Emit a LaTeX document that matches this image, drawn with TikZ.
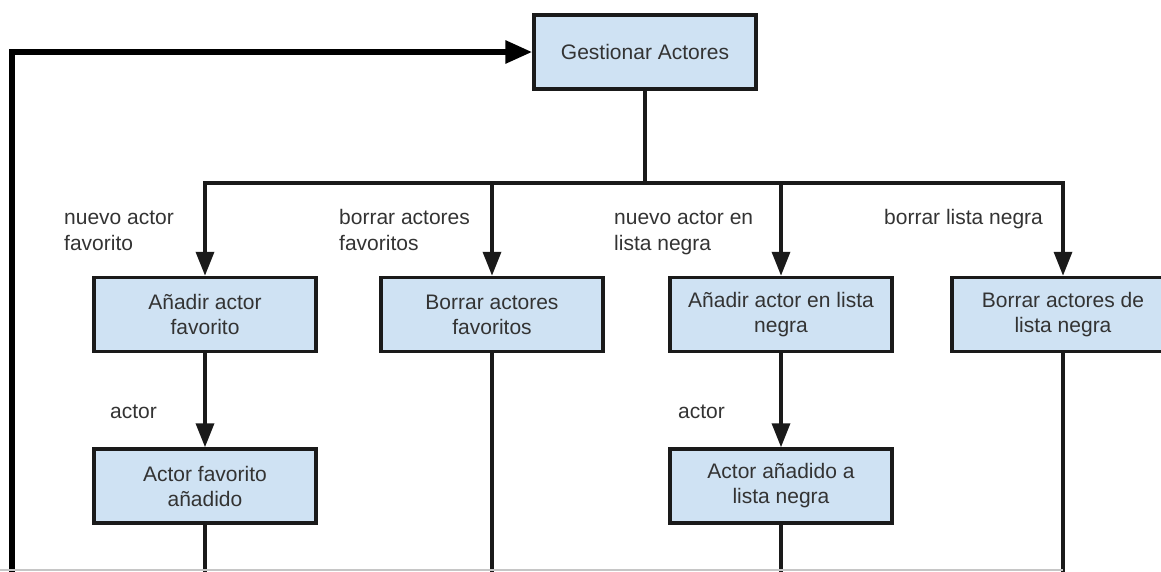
\documentclass[tikz,border=0pt]{standalone}
\usepackage{fontspec}
\setmainfont{Liberation Sans}
\usetikzlibrary{arrows.meta}
\definecolor{boxfill}{HTML}{CFE2F3}
\definecolor{ink}{HTML}{1A1A1A}
\definecolor{txt}{HTML}{333333}
\tikzset{
  procbox/.style={draw=ink, fill=boxfill, line width=3.5pt, minimum width=222pt, minimum height=74pt,
    align=center, text=txt, inner sep=0pt, font=\fontsize{21}{25}\selectfont},
  lbl/.style={align=left, text=txt, inner sep=0pt, font=\fontsize{21}{26}\selectfont, anchor=base west},
  conn/.style={draw=ink, line width=3.5pt},
  arr/.style={conn, -{Triangle[length=24pt,width=18pt]}},
  feedback/.style={draw=black, line width=6pt, -{Triangle[length=27pt,width=22pt]}},
}
\begin{document}
\begin{tikzpicture}[x=1pt,y=-1pt]
\useasboundingbox (0,0) rectangle (1161,571);
\clip (0,0) rectangle (1161,571);
% boxes
\node[procbox] (g) at (645,52) {Gestionar Actores};
\node[procbox] (b1) at (205,314.5) {Añadir actor\\favorito};
\node[procbox] (b2) at (492,314.5) {Borrar actores\\favoritos};
\node[procbox] (b3) at (781,314.5) {Añadir actor en lista\\negra};
\node[procbox] (b4) at (1063,314.5) {Borrar actores de\\lista negra};
\node[procbox] (b5) at (205,486) {Actor favorito\\añadido};
\node[procbox] (b6) at (781,486) {Actor añadido a\\lista negra};
% coordinates
\coordinate (bus) at (645,183);
\coordinate (bottom) at (0,580);
\coordinate (fb) at (12,580);
% labels (base anchor = last line)
\node[lbl] (l1) at (64,250) {nuevo actor\\favorito};
\node[lbl] (l2) at (339,250) {borrar actores\\favoritos};
\node[lbl] (l3) at (614,250) {nuevo actor en\\lista negra};
\node[lbl] (l4) at (884,224) {borrar lista negra};
\node[lbl] (l5) at (110,418) {actor};
\node[lbl] (l6) at (678,418) {actor};
% connectors
\draw[conn] (g.south) -- (bus);
\draw[arr] (bus) -| (b1.north);
\draw[arr] (bus) -| (b2.north);
\draw[arr] (bus) -| (b3.north);
\draw[arr] (bus) -| (b4.north);
\draw[arr] (b1.south) -- (b5.north);
\draw[arr] (b3.south) -- (b6.north);
\draw[conn] (b5.south) -- (b5.south |- bottom);
\draw[conn] (b2.south) -- (b2.south |- bottom);
\draw[conn] (b6.south) -- (b6.south |- bottom);
\draw[conn] (b4.south) -- (b4.south |- bottom);
\draw[feedback] (fb) |- (g.west);
% bottom edge line
\coordinate (gl1) at (0,570);
\coordinate (gl2) at (1063,570);
\draw[gray!45, line width=1.2pt] (gl1) -- (gl2);
\end{tikzpicture}
\end{document}
